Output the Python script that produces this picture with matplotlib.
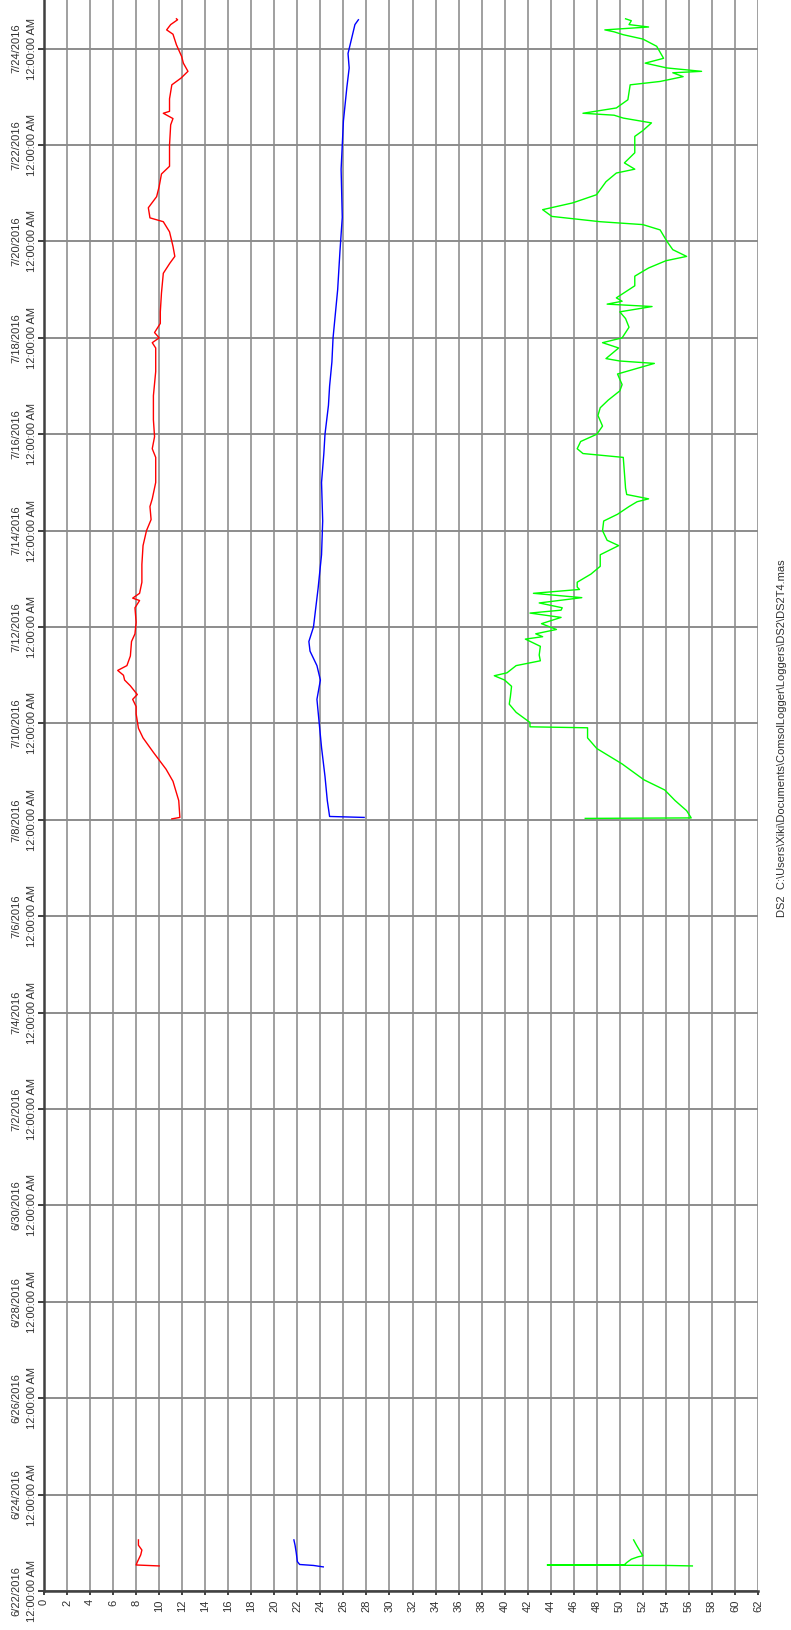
import matplotlib.pyplot as plt
import numpy as np

# time axis: days counted from 6/22/2016 00:00
tick_dates = ["6/22/2016", "6/24/2016", "6/26/2016", "6/28/2016", "6/30/2016",
              "7/2/2016", "7/4/2016", "7/6/2016", "7/8/2016", "7/10/2016",
              "7/12/2016", "7/14/2016", "7/16/2016", "7/18/2016", "7/20/2016",
              "7/22/2016", "7/24/2016"]
value_ticks = list(range(0, 63, 2))
title = "DS2  C:\\Users\\Xiki\\Documents\\ComsolLogger\\Loggers\\DS2\\DS2T4.mas"

# first short logging run
red_days_a = [0.52, 0.54, 0.60, 0.75, 0.85, 0.95, 1.06]
red_vals_a = [10.0, 8.0, 8.1, 8.4, 8.5, 8.2, 8.2]
blue_days_a = [0.50, 0.53, 0.55, 0.61, 0.80, 0.95, 1.06]
blue_vals_a = [24.25, 23.4, 22.2, 22.0, 21.9, 21.8, 21.7]
green_days_a = [0.52, 0.53, 0.54, 0.545, 0.59, 0.66, 0.71, 0.73, 0.85, 0.95, 1.06]
green_vals_a = [56.3, 54.2, 43.7, 50.4, 50.6, 51.0, 51.6, 52.0, 51.7, 51.45, 51.2]

# main logging run
red_days_b = [16.02, 16.05, 16.4, 16.8, 17.05, 17.4, 17.7, 17.9, 18.2, 18.35, 18.5, 18.6,
              18.78, 18.9, 19.0, 19.1, 19.2, 19.4, 19.7, 19.86, 20.1, 20.4, 20.55, 20.6,
              20.7, 20.93, 21.3, 21.69, 22.0, 22.23, 22.5, 22.66, 23.0, 23.52, 23.7, 23.95,
              24.3, 24.8, 25.3, 25.79, 25.9, 26.0, 26.11, 26.3, 26.54, 26.93, 27.34, 27.55,
              27.69, 27.9, 28.2, 28.41, 28.49, 28.7, 28.93, 29.14, 29.4, 29.56, 30.0, 30.42,
              30.55, 30.66, 30.7, 30.96, 31.25, 31.39, 31.53, 31.7, 31.84, 32.08, 32.3, 32.39,
              32.5, 32.6, 32.62]
red_vals_b = [11.1, 11.8, 11.7, 11.2, 10.6, 9.5, 8.6, 8.2, 8.0, 8.0, 7.7, 8.1,
              7.5, 7.0, 6.9, 6.4, 7.2, 7.5, 7.6, 7.9, 8.0, 7.9, 8.3, 7.7,
              8.3, 8.5, 8.5, 8.6, 8.9, 9.3, 9.2, 9.4, 9.7, 9.7, 9.4, 9.6,
              9.5, 9.5, 9.7, 9.7, 9.4, 10.0, 9.6, 10.1, 10.1, 10.2, 10.36, 10.93,
              11.36, 11.2, 10.9, 10.36, 9.2, 9.06, 9.78, 10.0, 10.2, 10.9, 10.9, 11.0,
              11.2, 10.36, 10.9, 10.9, 11.1, 11.9, 12.5, 12.1, 11.95, 11.5, 11.2, 10.65,
              11.0, 11.6, 11.5]
blue_days_b = [16.05, 16.07, 16.4, 16.9, 17.5, 18.0, 18.5, 18.9, 19.2, 19.5, 19.7, 20.0,
               20.4, 20.8, 21.5, 22.2, 23.0, 23.6, 24.0, 24.6, 25.0, 25.5, 26.0, 26.5,
               27.0, 27.8, 28.5, 29.5, 30.5, 31.2, 31.6, 31.9, 32.2, 32.5, 32.6]
blue_vals_b = [27.8, 24.8, 24.6, 24.4, 24.1, 23.9, 23.7, 24.0, 23.7, 23.1, 23.0, 23.4,
               23.6, 23.8, 24.1, 24.2, 24.1, 24.3, 24.4, 24.7, 24.8, 25.0, 25.1, 25.3,
               25.5, 25.7, 25.9, 25.8, 26.0, 26.3, 26.5, 26.4, 26.7, 27.0, 27.3]
green_days_b = [16.03, 16.04, 16.19, 16.40, 16.62, 16.83, 17.16, 17.48, 17.7, 17.91, 17.93,
                18.02, 18.23, 18.4, 18.56, 18.77, 18.9, 18.99, 19.05, 19.2, 19.3, 19.42,
                19.6, 19.75, 19.8, 19.86, 19.95, 20.07, 20.2, 20.29, 20.35, 20.4, 20.5,
                20.61, 20.7, 20.78, 20.83, 20.93, 21.1, 21.26, 21.5, 21.69, 21.8, 22.0,
                22.2, 22.34, 22.5, 22.6, 22.66, 22.75, 22.88, 23.2, 23.52, 23.6, 23.7,
                23.85, 24.0, 24.17, 24.39, 24.55, 24.71, 24.9, 25.03, 25.25, 25.47, 25.52,
                25.57, 25.79, 25.9, 26.0, 26.22, 26.4, 26.54, 26.65, 26.7, 26.76, 26.83,
                27.08, 27.28, 27.38, 27.45, 27.52, 27.6, 27.69, 27.83, 28.0, 28.24, 28.35,
                28.41, 28.52, 28.66, 28.8, 28.97, 29.24, 29.42, 29.5, 29.63, 29.84, 30.18,
                30.3, 30.46, 30.56, 30.62, 30.66, 30.77, 30.94, 31.25, 31.32, 31.42, 31.5,
                31.53, 31.6, 31.7, 31.8, 32.05, 32.2, 32.29, 32.35, 32.39, 32.45, 32.5,
                32.58, 32.62]
green_vals_b = [47.0, 56.2, 55.8, 54.8, 53.9, 52.1, 50.2, 48.0, 47.2, 47.2, 42.2,
                42.2, 41.0, 40.4, 40.5, 40.6, 40.0, 39.1, 40.2, 41.0, 43.1, 43.0,
                43.1, 41.8, 43.3, 42.7, 44.5, 43.2, 44.9, 42.2, 44.9, 45.0, 43.0,
                46.7, 42.5, 46.5, 46.3, 46.3, 47.5, 48.3, 48.3, 49.9, 48.9, 48.5,
                48.6, 49.8, 50.8, 51.5, 52.5, 50.6, 50.5, 50.4, 50.3, 46.8, 46.3,
                46.6, 48.0, 48.5, 48.1, 48.3, 49.0, 50.0, 50.2, 49.8, 53.0, 50.0,
                48.8, 49.9, 48.5, 50.2, 50.8, 50.5, 50.0, 52.8, 48.9, 50.2, 49.7,
                51.3, 51.3, 52.0, 52.5, 53.2, 54.0, 55.8, 54.6, 54.1, 53.5, 52.0,
                48.3, 44.1, 43.3, 45.9, 47.98, 48.8, 49.7, 51.3, 50.4, 51.3, 51.3,
                52.0, 52.75, 50.3, 49.5, 46.8, 49.7, 50.7, 50.9, 53.5, 55.5, 54.6,
                57.1, 54.1, 52.2, 53.8, 53.2, 52.0, 50.3, 49.5, 48.7, 52.5, 50.8,
                51.0, 50.5]

fig = plt.figure(figsize=(7.91, 16.30), dpi=100)
ax = fig.add_axes([44 / 791, 39 / 1630, 714 / 791, 1591 / 1630])

for days, vals, color in [(red_days_a, red_vals_a, "#ff0000"), (red_days_b, red_vals_b, "#ff0000"),
                          (blue_days_a, blue_vals_a, "#0000ff"), (blue_days_b, blue_vals_b, "#0000ff"),
                          (green_days_a, green_vals_a, "#00ff00"), (green_days_b, green_vals_b, "#00ff00")]:
    ax.plot(vals, days, color=color, lw=1.0, zorder=3)

ax.set_xlim(0, 62)
ax.set_ylim(0, 33.01)

ax.set_xticks(value_ticks)
ax.set_xticklabels([str(v) for v in value_ticks], rotation=90, fontsize=8,
                   family="Liberation Sans", color="#303030")
ax.set_yticks(np.arange(0, 33, 2))
ax.set_yticklabels([d + "\n12:00:00 AM" for d in tick_dates], rotation=90, fontsize=8,
                   family="Liberation Sans", color="#303030", va="center",
                   multialignment="center", linespacing=1.75)

ax.grid(True, axis="x", color="#a0a0a0", lw=1.4)
ax.grid(True, axis="y", color="#8c8c8c", lw=1.4)
ax.set_axisbelow(True)
ax.tick_params(axis="x", length=3, width=1.4, color="#404040", pad=3)
ax.tick_params(axis="y", length=4, width=1.4, color="#404040", pad=1)

for side in ["top", "right"]:
    ax.spines[side].set_visible(False)
for side in ["left", "bottom"]:
    ax.spines[side].set_color("#404040")
    ax.spines[side].set_linewidth(1.8)

fig.text(782 / 791, 1 - 738 / 1630, title, rotation=90, fontsize=8, family="Liberation Sans",
         color="#303030", ha="center", va="center")

fig.savefig("out.png", dpi=100)
